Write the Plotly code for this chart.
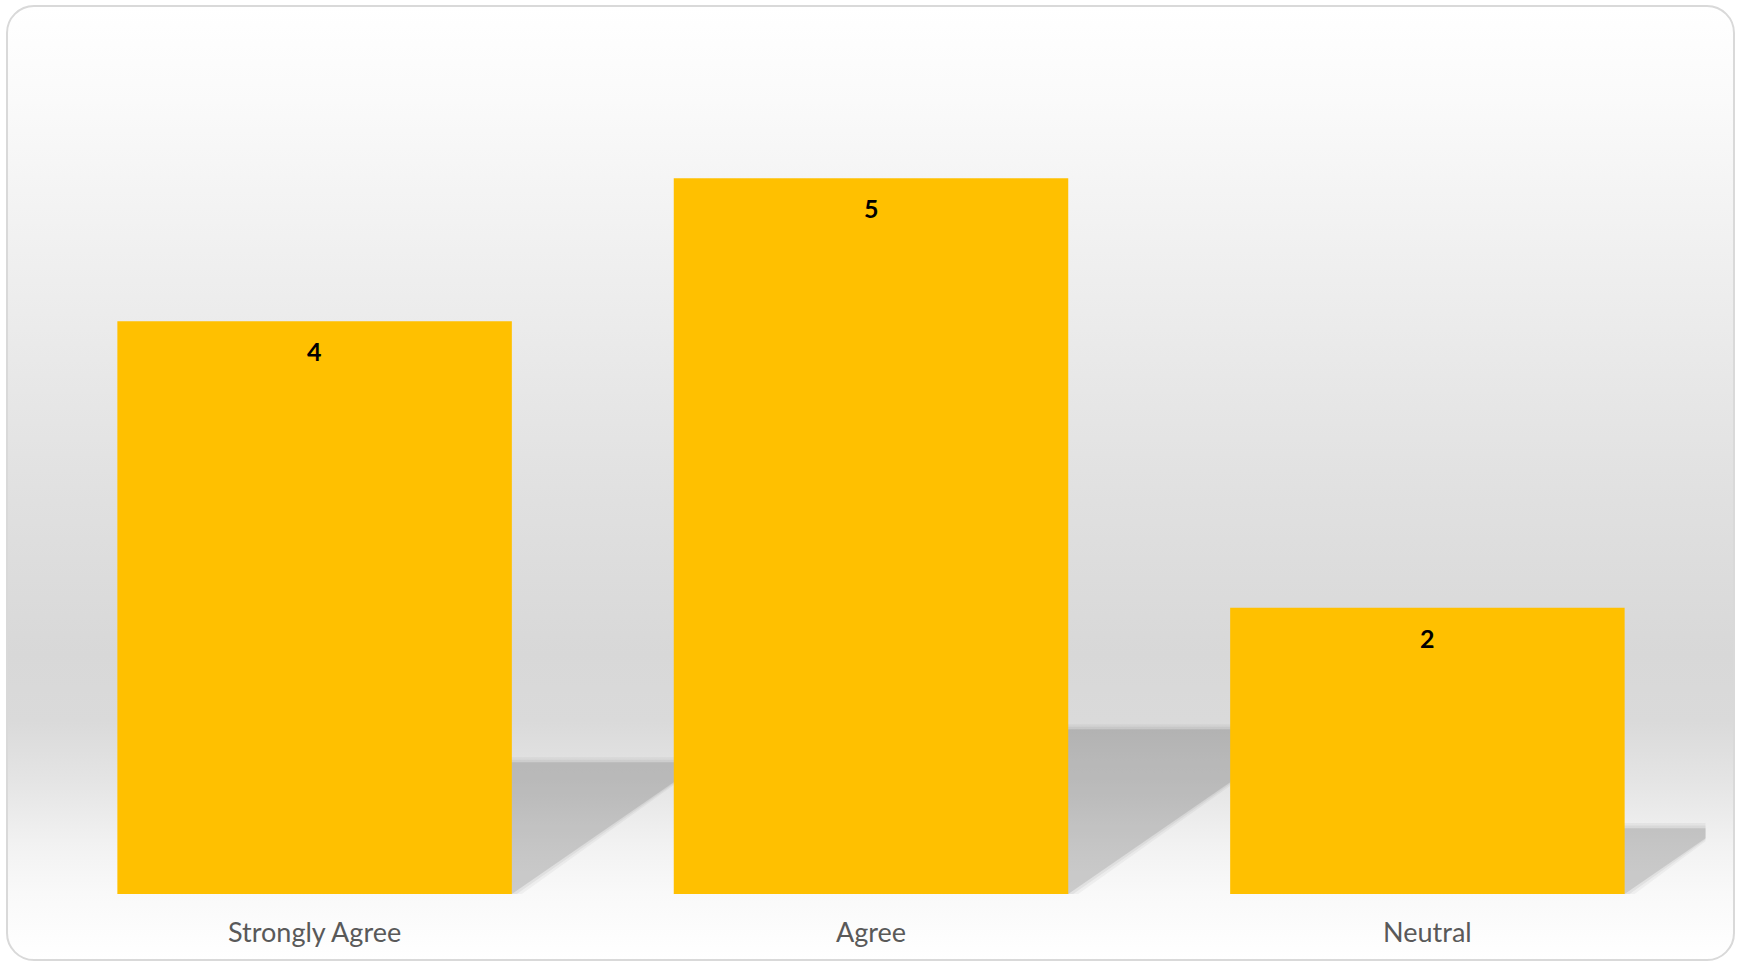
import base64
import plotly.graph_objects as go

# ---- data ----
categories = ["Strongly Agree", "Agree", "Neutral"]
values = [4, 5, 2]

W, H = 1737, 966
BAR_W = 0.709
SH_H = 0.23      # shadow height as fraction of bar value
SH_X = 0.0858    # shadow horizontal shift per value unit

# background gradient + rounded border as an SVG image
svg = f'''<svg xmlns="http://www.w3.org/2000/svg" width="{W}" height="{H}" viewBox="0 0 {W} {H}">
<defs><linearGradient id="g" x1="0" y1="0" x2="0" y2="1">
<stop offset="0" stop-color="#ffffff"/>
<stop offset="0.10" stop-color="#fafafa"/>
<stop offset="0.32" stop-color="#ececec"/>
<stop offset="0.52" stop-color="#e0e0e0"/>
<stop offset="0.68" stop-color="#d8d8d8"/>
<stop offset="0.75" stop-color="#dadada"/>
<stop offset="0.81" stop-color="#e4e4e4"/>
<stop offset="0.88" stop-color="#f2f2f2"/>
<stop offset="0.93" stop-color="#f9f9f9"/>
<stop offset="1" stop-color="#ffffff"/>
</linearGradient></defs>
<rect x="7" y="6" width="1727" height="954" rx="27" ry="27" fill="url(#g)" stroke="#d9d9d9" stroke-width="2"/>
</svg>'''
svg_uri = "data:image/svg+xml;base64," + base64.b64encode(svg.encode()).decode()

fig = go.Figure()

fig.add_trace(go.Bar(
    x=list(range(len(categories))), y=values, width=BAR_W,
    marker=dict(color="#FFC000", line=dict(width=0)),
    showlegend=False,
))

# perspective shadows (below the bars), with a soft edge made of layered fills
shapes = []
soft = [(0.018, 0.04), (0.009, 0.05), (0.0, 0.10)]
for i, v in enumerate(values):
    xl, xr = i - BAR_W / 2, i + BAR_W / 2
    s = SH_X * v
    hy = SH_H * v
    for grow, op in soft:
        path = (f"M {xl} 0 L {xr + grow} 0 L {xr + s + grow} {hy + grow * 2} "
                f"L {xl + s} {hy + grow * 2} Z")
        shapes.append(dict(type="path", path=path, xref="x", yref="y",
                           layer="below", line=dict(width=0),
                           fillcolor=f"rgba(0,0,0,{op})"))

for i, v in enumerate(values):
    fig.add_annotation(x=i, y=v, text=str(v), showarrow=False,
                       yanchor="middle", yshift=-30,
                       font=dict(family="Lato", size=25, color="#000000", weight="bold"))

fig.update_layout(
    width=W, height=H,
    margin=dict(l=0, r=0, t=0, b=0),
    paper_bgcolor="#ffffff", plot_bgcolor="rgba(0,0,0,0)",
    shapes=shapes,
    images=[dict(source=svg_uri, xref="paper", yref="paper", x=0, y=1,
                 sizex=1, sizey=1, sizing="stretch", xanchor="left",
                 yanchor="top", layer="below")],
    xaxis=dict(domain=[36.4 / W, 1705.6 / W], range=[-0.5, 2.5],
               tickvals=list(range(len(categories))), ticktext=categories,
               showgrid=False, zeroline=False, showline=False,
               ticks="", ticklabelstandoff=20,
               tickfont=dict(family="Lato", size=27, color="#595959")),
    yaxis=dict(domain=[(H - 894) / H, (H - 35) / H], range=[0, 6],
               showgrid=False, zeroline=False, showline=False,
               showticklabels=False, ticks=""),
)

fig.write_html("out.html", config={"displayModeBar": False},
               post_script="document.body.style.margin='0';")
